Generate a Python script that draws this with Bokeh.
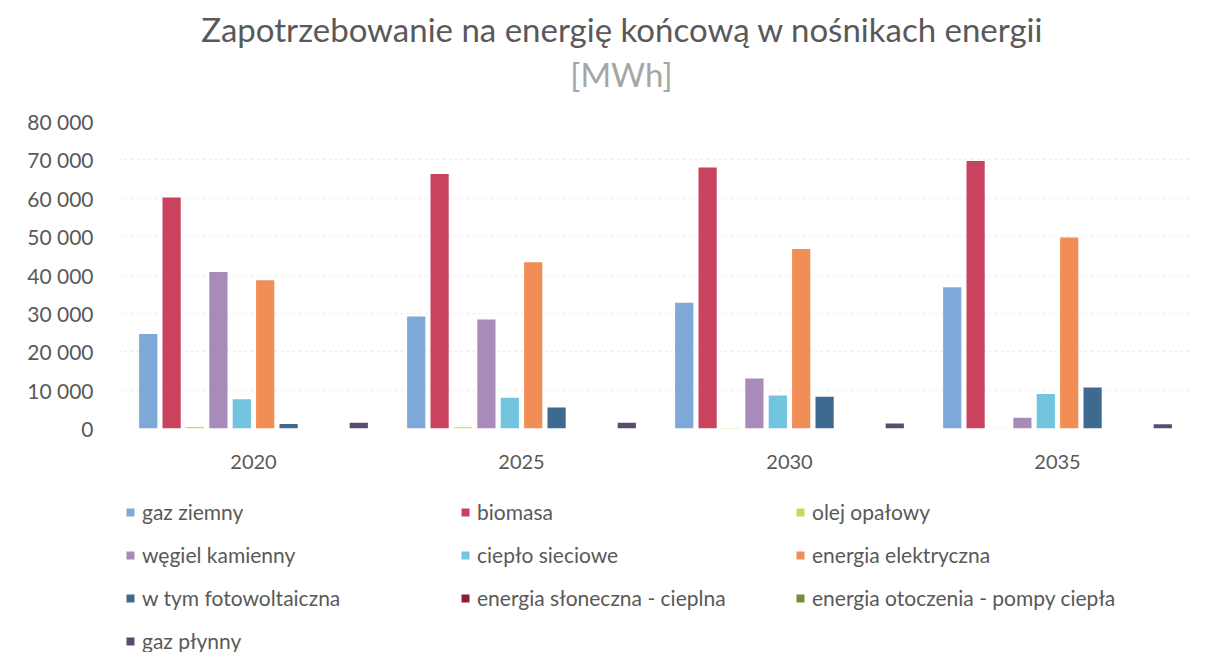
from bokeh.plotting import figure
from bokeh.layouts import column
from bokeh.models import (FactorRange, Legend, LegendItem, FixedTicker, Range1d,
                          Label, ColumnDataSource)
from bokeh.transform import dodge
from bokeh.embed import file_html
from bokeh.resources import INLINE

years = ["2020", "2025", "2030", "2035"]
series = ["gaz ziemny", "biomasa", "olej opałowy", "węgiel kamienny", "ciepło sieciowe",
          "energia elektryczna", "w tym fotowoltaiczna", "energia słoneczna - cieplna",
          "energia otoczenia - pompy ciepła", "gaz płynny"]
gaz_ziemny = [24600, 29200, 32800, 36800]
biomasa = [60200, 66300, 68000, 69700]
olej_opalowy = [400, 300, 100, 50]
wegiel_kamienny = [40800, 28400, 13000, 2800]
cieplo_sieciowe = [7600, 8000, 8600, 9000]
energia_elektryczna = [38600, 43300, 46800, 49800]
fotowoltaiczna = [1200, 5500, 8300, 10700]
sloneczna_cieplna = [0, 0, 0, 0]
otoczenia_pompy = [0, 0, 0, 0]
gaz_plynny = [1500, 1500, 1300, 1100]
values = [gaz_ziemny, biomasa, olej_opalowy, wegiel_kamienny, cieplo_sieciowe,
          energia_elektryczna, fotowoltaiczna, sloneczna_cieplna, otoczenia_pompy, gaz_plynny]
colors = ["#7EA8D8", "#C9435E", "#C9DA52", "#A98BBB", "#72C4DF",
          "#F08E55", "#3D6A8E", "#8E1E30", "#7C8B3C", "#5B4B70"]
y_ticks = [0, 10000, 20000, 30000, 40000, 50000, 60000, 70000, 80000]
y_tick_labels = ["0", "10 000", "20 000", "30 000", "40 000", "50 000", "60 000", "70 000", "80 000"]
title_text = "Zapotrzebowanie na energię końcową w nośnikach energii"
subtitle_text = "[MWh]"
legend_columns = [[0, 3, 6, 9], [1, 4, 7], [2, 5, 8]]

FONT = "Lato"
GRAY = "#595959"
LEFT, RIGHT, FW = 119, 26, 1072


def blank(h):
    f = figure(frame_width=FW, frame_height=h, x_range=Range1d(LEFT, LEFT + FW),
               y_range=Range1d(0, h), output_backend="svg", toolbar_location=None,
               x_axis_type=None, y_axis_type=None,
               min_border_left=LEFT, min_border_right=RIGHT,
               min_border_top=0, min_border_bottom=0)
    f.outline_line_color = None
    f.xgrid.visible = False
    f.ygrid.visible = False
    return f


# ---- title block ----
TH = 105
pt = blank(TH)
pt.add_layout(Label(x=622, y=TH - 28, text=title_text, text_align="center",
                    text_baseline="middle", text_font=FONT, text_font_size="33px",
                    text_color=GRAY))
pt.add_layout(Label(x=621, y=TH - 73, text=subtitle_text, text_align="center",
                    text_baseline="middle", text_font=FONT, text_font_size="33px",
                    text_color="#A6A6A6"))

# ---- main chart ----
p = figure(x_range=FactorRange(*years), y_range=Range1d(0, 80000),
           frame_width=FW, frame_height=307, output_backend="svg", toolbar_location=None,
           min_border_left=LEFT, min_border_right=RIGHT, min_border_bottom=60, min_border_top=16)
p.outline_line_color = None

src = {"years": years}
for i, v in enumerate(values):
    src["s%d" % i] = v
source = ColumnDataSource(src)

step = 0.0873
bw = 0.068
for i, name in enumerate(series):
    off = (i - 4.5) * step
    p.vbar(x=dodge("years", off, range=p.x_range), top="s%d" % i, width=bw,
           source=source, fill_color=colors[i], line_color=None)

p.yaxis.ticker = FixedTicker(ticks=y_ticks)
p.yaxis.major_label_overrides = {t: l for t, l in zip(y_ticks, y_tick_labels)}
p.yaxis.axis_line_color = None
p.yaxis.major_tick_line_color = None
p.yaxis.minor_tick_line_color = None
p.yaxis.major_label_text_font = FONT
p.yaxis.major_label_text_font_size = "21px"
p.yaxis.major_label_text_color = GRAY
p.yaxis.major_label_standoff = 20

p.xaxis.axis_line_color = None
p.xaxis.major_tick_line_color = None
p.xaxis.minor_tick_line_color = None
p.xaxis.major_label_text_font = FONT
p.xaxis.major_label_text_font_size = "20px"
p.xaxis.major_label_text_color = GRAY
p.xaxis.major_label_standoff = 20

p.xgrid.grid_line_color = None
p.ygrid.grid_line_color = "#D0D0D0"
p.ygrid.grid_line_dash = "1 5"

# ---- legend block (swatch proxies have zero size) ----
LH = 164
pl = blank(LH)
swatches = [pl.vbar(x=[LEFT], top=[0], width=0, fill_color=c, line_color=None) for c in colors]
col_x = [125, 460, 795]
item_h = 25
gap = 18
top_pad = 11
for cx, idxs in zip(col_x, legend_columns):
    n = len(idxs)
    h = n * item_h + (n - 1) * gap
    lg = Legend(items=[LegendItem(label=series[k], renderers=[swatches[k]]) for k in idxs],
                orientation="vertical", location=(cx - LEFT, LH - top_pad - h),
                label_text_font=FONT, label_text_font_size="21px", label_text_color=GRAY,
                label_height=20, glyph_width=10, glyph_height=10, spacing=gap,
                label_standoff=7, border_line_color=None, background_fill_alpha=0,
                margin=0, padding=0)
    pl.add_layout(lg)

open("out.html", "w").write(file_html(column(pt, p, pl), INLINE))
